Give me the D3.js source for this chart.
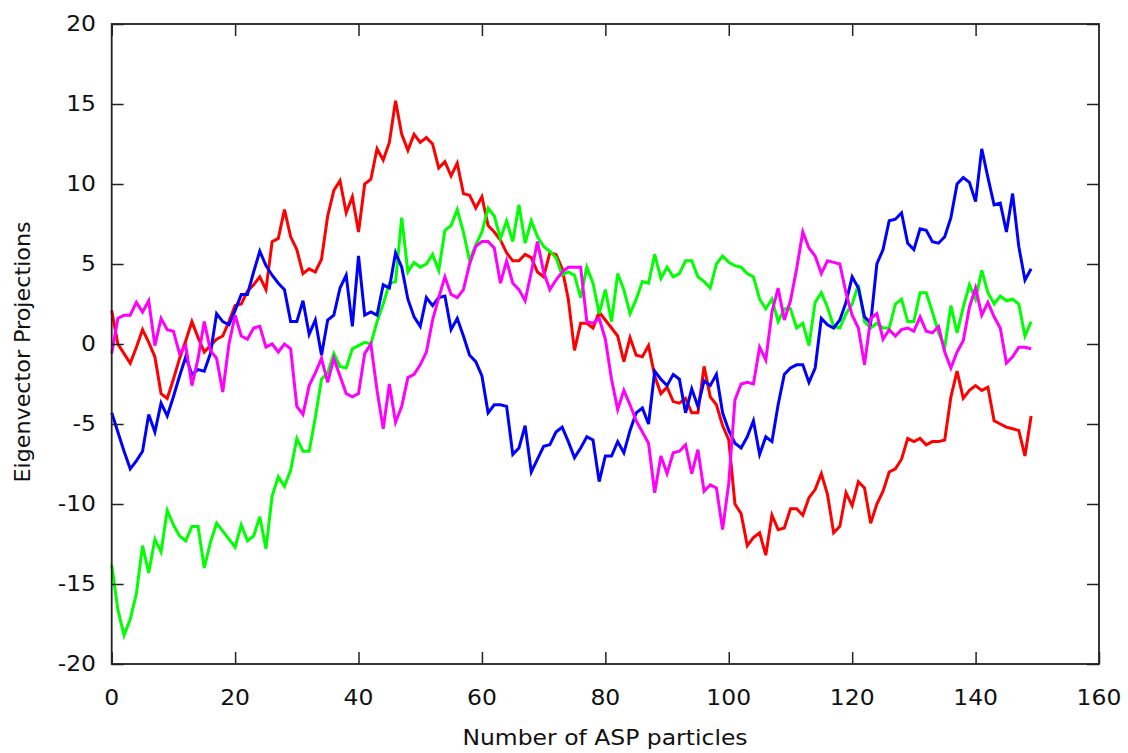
<!DOCTYPE html>
<html lang="en">
<head>
  <meta charset="UTF-8">
  <title>Eigenvector Projections</title>
  <script src="https://d3js.org/d3.v7.min.js"></script>
  <style>
    body { margin: 0; background: #fff; }
    svg { font-family: "DejaVu Sans", sans-serif; }
    .tick-label { font-size: 20.6px; fill: #111; }
    .axis-title { font-size: 20.6px; fill: #111; }
  </style>
</head>
<body>
  <svg id="chart"></svg>

  <script>
    // Tick values
    const xTicks = [0, 20, 40, 60, 80, 100, 120, 140, 160];
    const yTicks = [-20, -15, -10, -5, 0, 5, 10, 15, 20];

    // Series values, one per particle count 0..149
    const redSeries = [
      2.1, 0.0, -0.6, -1.2, -0.2, 0.9, 0.1, -0.8, -3.1, -3.4,
      -2.2, -0.9, 0.2, 1.4, 0.4, -0.5, -0.1, 0.3, 0.5, 1.4,
      2.4, 2.5, 3.3, 3.7, 4.2, 3.4, 6.4, 6.6, 8.4, 6.7,
      5.9, 4.4, 4.7, 4.5, 5.3, 8.0, 9.6, 10.2, 8.2, 9.2,
      7.0, 10.0, 10.3, 12.2, 11.5, 12.6, 15.2, 13.1, 12.1, 13.1,
      12.6, 12.9, 12.5, 11.0, 11.4, 10.5, 11.3, 9.4, 9.3, 8.5,
      9.2, 7.4, 7.0, 6.5, 5.7, 5.2, 5.2, 5.6, 5.4, 4.5,
      4.2, 5.7, 5.6, 4.7, 2.8, -0.4, 1.3, 1.3, 1.0, 2.0,
      1.5, 1.0, 0.5, -1.1, 0.4, -0.7, -0.8, -0.1, -2.0, -3.1,
      -2.7, -3.6, -3.7, -3.4, -4.3, -4.3, -1.4, -3.3, -3.8, -5.1,
      -6.0, -10.0, -10.6, -12.6, -12.1, -11.8, -13.2, -10.7, -11.6, -11.5,
      -10.3, -10.3, -10.7, -9.6, -9.1, -8.1, -9.4, -11.8, -11.4, -9.3,
      -10.1, -8.6, -9.0, -11.2, -10.0, -9.2, -8.0, -7.8, -7.2, -5.9,
      -6.1, -5.9, -6.3, -6.1, -6.1, -6.0, -3.3, -1.7, -3.4, -2.9,
      -2.6, -2.9, -2.7, -4.8, -5.0, -5.2, -5.3, -5.4, -7.0, -4.5
    ];

    const greenSeries = [
      -13.8, -16.6, -18.2, -17.2, -15.6, -12.6, -14.3, -12.2, -13.0, -10.4,
      -11.3, -12.0, -12.3, -11.4, -11.4, -14.0, -12.4, -11.2, -11.7, -12.2,
      -12.7, -11.3, -12.3, -12.0, -10.8, -12.8, -9.5, -8.3, -8.9, -7.9,
      -5.9, -6.7, -6.7, -4.6, -2.2, -1.8, -0.6, -1.4, -1.5, -0.3,
      -0.1, 0.1, 0.0, 1.4, 2.5, 3.8, 3.9, 7.9, 4.5, 5.1,
      4.8, 5.0, 5.6, 4.6, 7.1, 7.4, 8.4, 7.0, 5.2, 6.2,
      7.0, 8.5, 8.0, 6.6, 7.7, 6.4, 8.7, 6.3, 7.7, 6.7,
      6.1, 5.8, 5.4, 4.3, 4.5, 4.3, 2.9, 4.8, 3.8, 1.9,
      3.4, 1.4, 4.4, 3.4, 1.9, 2.8, 3.9, 3.8, 5.6, 4.1,
      4.8, 4.2, 4.4, 5.2, 5.2, 4.2, 3.9, 3.5, 5.0, 5.5,
      5.1, 4.9, 4.8, 4.4, 4.2, 2.8, 2.2, 2.8, 1.4, 2.2,
      2.2, 1.0, 1.3, -0.1, 2.6, 3.2, 2.3, 1.1, 1.0, 1.9,
      2.5, 3.7, 1.4, 1.0, 1.3, 1.0, 1.0, 2.5, 2.8, 1.4,
      1.4, 3.2, 3.2, 2.0, 0.7, -0.2, 2.4, 0.7, 2.3, 3.7,
      2.8, 4.6, 3.2, 2.5, 3.0, 2.7, 2.8, 2.5, 0.5, 1.4
    ];

    const blueSeries = [
      -4.3, -5.5, -6.7, -7.8, -7.3, -6.7, -4.4, -5.5, -3.7, -4.5,
      -3.3, -2.0, -0.8, -1.9, -1.6, -1.7, -0.6, 1.9, 1.4, 1.2,
      2.1, 3.1, 3.1, 4.5, 5.8, 4.9, 4.3, 3.8, 3.4, 1.4,
      1.4, 2.7, 0.6, 1.5, -0.7, 1.5, 1.8, 3.5, 4.3, 1.1,
      5.5, 1.8, 2.0, 1.8, 3.7, 3.5, 5.7, 4.8, 2.8, 1.7,
      1.1, 2.9, 2.4, 2.9, 3.0, 0.9, 1.6, 0.5, -0.7, -1.1,
      -2.0, -4.3, -3.8, -3.8, -3.9, -6.9, -6.5, -5.1, -8.0, -7.2,
      -6.4, -6.3, -5.5, -5.2, -6.1, -7.1, -6.5, -5.8, -6.0, -8.6,
      -7.0, -7.0, -6.1, -6.8, -5.4, -4.3, -4.0, -5.0, -1.7, -2.2,
      -2.6, -1.9, -2.2, -4.3, -2.8, -3.9, -2.3, -2.6, -1.9, -4.3,
      -5.4, -6.2, -6.5, -5.8, -4.8, -6.9, -5.8, -6.1, -3.8, -1.9,
      -1.5, -1.3, -1.3, -2.4, -1.5, 1.6, 1.2, 1.0, 1.5, 2.6,
      4.2, 3.5, 1.7, 1.3, 5.0, 5.9, 7.7, 7.8, 8.2, 6.3,
      5.9, 7.2, 7.1, 6.4, 6.3, 6.7, 7.9, 10.0, 10.4, 10.1,
      8.9, 12.2, 10.4, 8.7, 8.8, 7.0, 9.4, 6.1, 4.0, 4.7
    ];

    const magentaSeries = [
      -0.6, 1.6, 1.8, 1.8, 2.6, 2.0, 2.7, -0.1, 1.6, 0.9,
      0.8, -0.6, -0.1, -2.6, -0.9, 1.4, -0.4, -0.9, -3.0, 0.0,
      1.8, 0.5, 0.3, 1.0, 1.1, -0.2, 0.0, -0.5, 0.0, -0.3,
      -3.9, -4.4, -2.6, -1.8, -0.9, -2.4, -0.9, -2.0, -3.1, -3.3,
      -3.1, -0.6, 0.0, -2.9, -5.3, -2.5, -4.9, -3.9, -2.1, -1.9,
      -1.3, -0.5, 1.5, 2.9, 4.2, 3.1, 2.9, 3.4, 5.0, 6.1,
      6.4, 6.4, 6.0, 3.8, 5.2, 3.8, 3.4, 2.7, 4.5, 6.4,
      4.5, 3.4, 4.0, 4.5, 4.8, 4.8, 4.8, 1.4, 1.3, 1.6,
      0.3, -2.2, -4.1, -2.9, -3.8, -4.8, -5.5, -6.2, -9.3, -7.0,
      -8.1, -6.8, -6.7, -6.3, -8.1, -6.6, -9.2, -8.8, -9.0, -11.6,
      -8.7, -3.5, -2.5, -2.4, -2.5, -0.2, -1.0, 2.0, 3.5, 1.5,
      2.7, 4.7, 7.0, 6.0, 5.5, 4.4, 5.2, 5.1, 5.0, 3.2,
      1.8, 1.0, -1.3, 1.6, 1.9, 0.3, 0.9, 0.5, 0.9, 1.0,
      0.8, 1.7, 0.8, 0.7, 1.1, -0.5, -1.5, -0.5, 0.2, 2.3,
      3.5, 1.8, 2.6, 1.7, 1.0, -1.2, -0.8, -0.2, -0.2, -0.3
    ];

    const seriesList = [redSeries, greenSeries, blueSeries, magentaSeries];
    const colors = ["#ff0000", "#00ff00", "#0000ff", "#ff00ff"];

    const width = 1128, height = 753;
    const plot = {left: 111.7, right: 1099, top: 24, bottom: 664};
    const tickLen = 12;

    const svg = d3.select("#chart")
      .attr("width", width)
      .attr("height", height);

    const x = d3.scaleLinear().domain([0, 160]).range([plot.left, plot.right]);
    const y = d3.scaleLinear().domain([-20, 20]).range([plot.bottom, plot.top]);

    // lines
    const line = d3.line()
      .x((d, i) => x(i))
      .y(d => y(d));

    svg.append("g")
      .selectAll("path")
      .data(seriesList)
      .enter().append("path")
      .attr("d", d => line(d))
      .attr("fill", "none")
      .attr("stroke", (d, i) => colors[i])
      .attr("stroke-width", 3)
      .attr("stroke-linejoin", "miter");

    // axes: ticks point inward on all four sides, gnuplot style
    const axisColor = "#222";
    svg.append("g")
      .attr("transform", "translate(0," + plot.bottom + ")")
      .call(d3.axisBottom(x).tickValues(xTicks).tickSize(-tickLen).tickFormat(""))
      .call(g => g.select(".domain").remove())
      .selectAll("line").attr("stroke", axisColor).attr("stroke-width", 1.5);

    svg.append("g")
      .attr("transform", "translate(0," + plot.top + ")")
      .call(d3.axisTop(x).tickValues(xTicks.slice(0, -1)).tickSize(-tickLen).tickFormat(""))
      .call(g => g.select(".domain").remove())
      .selectAll("line").attr("stroke", axisColor).attr("stroke-width", 1.5);

    svg.append("g")
      .attr("transform", "translate(" + plot.left + ",0)")
      .call(d3.axisLeft(y).tickValues(yTicks).tickSize(-tickLen).tickFormat(""))
      .call(g => g.select(".domain").remove())
      .selectAll("line").attr("stroke", axisColor).attr("stroke-width", 1.5);

    svg.append("g")
      .attr("transform", "translate(" + plot.right + ",0)")
      .call(d3.axisRight(y).tickValues(yTicks).tickSize(-tickLen).tickFormat(""))
      .call(g => g.select(".domain").remove())
      .selectAll("line").attr("stroke", axisColor).attr("stroke-width", 1.5);

    // frame
    svg.append("rect")
      .attr("x", plot.left)
      .attr("y", plot.top)
      .attr("width", plot.right - plot.left)
      .attr("height", plot.bottom - plot.top)
      .attr("fill", "none")
      .attr("stroke", axisColor)
      .attr("stroke-width", 1.8);

    // tick labels (the source picture is stretched horizontally a bit)
    const sx = 1.14;
    svg.append("g")
      .selectAll("text")
      .data(xTicks)
      .enter().append("text")
      .attr("class", "tick-label")
      .attr("text-anchor", "middle")
      .attr("transform", d => "translate(" + x(d) + ",705) scale(" + sx + ",1)")
      .text(d => d);

    svg.append("g")
      .selectAll("text")
      .data(yTicks)
      .enter().append("text")
      .attr("class", "tick-label")
      .attr("text-anchor", "end")
      .attr("dy", "0.36em")
      .attr("transform", d => "translate(96," + y(d) + ") scale(" + sx + ",1)")
      .text(d => d);

    // axis titles
    svg.append("text")
      .attr("class", "axis-title")
      .attr("text-anchor", "middle")
      .attr("transform", "translate(605,745) scale(" + sx + ",1)")
      .text("Number of ASP particles");

    svg.append("text")
      .attr("class", "axis-title")
      .attr("text-anchor", "middle")
      .attr("transform", "translate(30,352) rotate(-90) scale(1.08,1)")
      .text("Eigenvector Projections");
  </script>
</body>
</html>
